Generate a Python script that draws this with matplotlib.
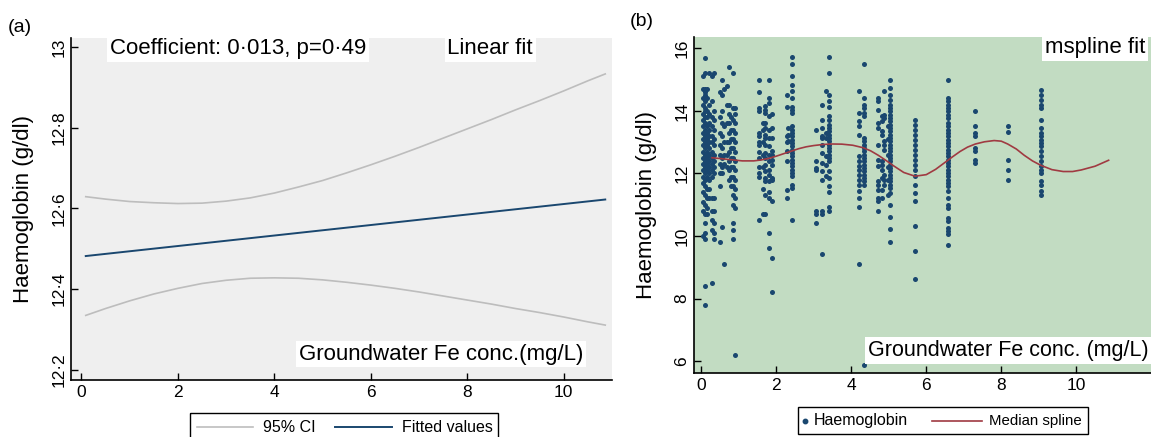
import numpy as np
import matplotlib.pyplot as plt
from matplotlib.patches import Rectangle

plt.rcParams['font.family'] = ['Liberation Sans', 'DejaVu Sans']

# ---- panel (a): linear fit + 95% CI
fit_x = [0.09, 10.86]
fit_y = [12.482, 12.622]
ci_x = [0.09, 0.5, 1, 1.5, 2, 2.5, 3, 3.5, 4, 4.5, 5, 5.5, 6, 6.5, 7, 7.5,
        8, 8.5, 9, 9.5, 10, 10.5, 10.86]
ci_upper = [12.629, 12.623, 12.617, 12.614, 12.612, 12.613, 12.618, 12.626,
            12.638, 12.653, 12.669, 12.688, 12.708, 12.729, 12.751, 12.774,
            12.797, 12.820, 12.844, 12.867, 12.891, 12.916, 12.933]
ci_lower = [12.335, 12.352, 12.371, 12.388, 12.402, 12.414, 12.422, 12.427,
            12.428, 12.427, 12.423, 12.417, 12.410, 12.402, 12.393, 12.383,
            12.373, 12.363, 12.352, 12.342, 12.331, 12.319, 12.311]

# ---- panel (b): haemoglobin by groundwater Fe, one list per Fe level
col_x = [0.05, 0.1, 0.15, 0.2, 0.3, 0.35, 0.5, 0.55, 0.6, 0.7, 0.75, 0.8,
         0.85, 0.9,
         1.54, 1.65, 1.7, 1.8, 1.9, 2.28, 2.32, 2.42,
         3.05, 3.22, 3.32, 3.4,
         4.2, 4.34, 4.72, 4.82, 4.88, 4.98, 5.04, 5.7,
         6.58, 7.31, 8.17, 9.05]
col_hb = [
    [15.1, 14.7, 14.4, 14.2, 13.9, 13.7, 13.5, 13.3, 13.1, 12.9, 12.7, 12.5,
     12.3, 12.1, 11.9, 11.7, 11.4, 11.1, 10.8, 10.0],
    [15.7, 15.2, 14.7, 14.6, 14.5, 14.3, 14.1, 14.0, 13.8, 13.6, 13.4, 13.2,
     13.0, 12.8, 12.6, 12.4, 12.2, 12.0, 11.8, 11.6, 11.3, 11.0, 10.7, 10.4,
     10.1, 9.9, 8.4, 7.8],
    [14.7, 14.4, 14.0, 13.8, 13.5, 13.3, 13.1, 12.9, 12.7, 12.5, 12.3, 12.1,
     11.9, 11.5, 11.2, 10.9, 10.7],
    [15.2, 14.2, 13.9, 13.6, 13.4, 13.2, 13.0, 12.8, 12.6, 12.4, 12.2, 12.0,
     11.8, 11.5, 11.2],
    [15.1, 14.3, 13.8, 13.5, 13.2, 13.0, 12.7, 12.5, 12.3, 12.1, 11.9, 11.2,
     10.8, 10.5, 10.2, 8.5],
    [15.2, 14.0, 13.7, 13.4, 13.1, 12.9, 12.6, 12.4, 12.2, 12.0, 11.2, 10.8,
     10.4, 10.1, 9.9],
    [14.6, 13.8, 13.3, 12.9, 12.6, 12.3, 12.0, 11.6, 9.8],
    [15.0, 14.5, 14.0, 13.6, 13.2, 12.8, 12.5, 12.2, 12.0, 10.3],
    [14.7, 13.5, 13.0, 12.6, 12.3, 9.1],
    [14.8, 14.2, 13.6, 13.0, 12.6, 12.2],
    [15.4, 14.2, 13.9, 13.6, 13.3, 13.0, 12.7, 12.4, 12.1, 11.8],
    [13.8, 13.4, 13.1, 12.8, 12.5, 12.2, 11.9, 11.6],
    [15.2, 14.1, 13.7, 13.4, 13.1, 12.8, 12.5, 12.2, 11.9, 11.6, 11.3, 11.0,
     10.4, 10.2, 9.9],
    [14.1, 13.9, 13.6, 13.3, 13.0, 12.7, 12.4, 12.1, 11.8, 11.5, 11.2, 10.9,
     6.2],
    [15.0, 14.6, 14.1, 14.0, 13.3, 13.2, 13.0, 12.9, 12.7, 12.5, 12.2, 12.0,
     11.9, 10.5],
    [13.6, 13.4, 13.0, 12.6, 12.2, 11.5, 10.7],
    [14.15, 14.04, 13.93, 13.61, 13.45, 13.24, 13.13, 12.92, 12.65, 12.50,
     12.28, 12.07, 11.86, 11.75, 11.32, 10.71],
    [15.0, 14.41, 14.25, 13.83, 13.40, 13.13, 12.87, 12.60, 12.39, 12.12,
     11.96, 11.75, 11.41, 11.22, 10.11, 9.60],
    [13.90, 13.45, 13.13, 12.71, 12.60, 12.44, 12.28, 11.86, 11.80, 11.11,
     9.30, 8.20],
    [14.52, 14.11, 13.19, 13.00, 12.71, 12.41, 11.48, 11.20],
    [13.45, 13.24, 13.03],
    [15.71, 15.51, 15.10, 14.84, 14.63, 14.41, 14.11, 14.04, 13.93, 13.51,
     13.40, 13.29, 13.19, 13.08, 12.97, 12.87, 12.76, 12.65, 12.55, 12.44,
     12.34, 12.23, 12.12, 12.02, 11.91, 11.64, 11.54, 10.50],
    [13.40, 12.41, 12.18, 12.12, 10.81, 10.71, 10.40],
    [14.20, 13.71, 13.45, 13.19, 13.13, 12.92, 12.65, 12.34, 12.07, 11.80,
     10.79, 10.71, 9.41],
    [14.63, 13.29, 13.13, 12.55, 12.28, 11.91],
    [15.71, 15.21, 14.52, 14.33, 14.11, 13.83, 13.72, 13.56, 13.45, 13.35,
     13.24, 13.13, 13.03, 12.92, 12.81, 12.71, 12.60, 12.50, 12.39, 12.09,
     11.86, 11.59, 11.41, 10.92, 10.79],
    [14.63, 13.93, 13.67, 13.51, 13.24, 12.55, 12.39, 12.23, 12.12, 11.96,
     11.80, 11.64, 11.43, 11.22, 10.92, 9.11],
    [15.51, 14.41, 14.20, 14.09, 13.93, 13.83, 13.13, 13.03, 12.92, 12.81,
     12.71, 12.60, 12.50, 12.39, 12.28, 12.18, 12.07, 11.96, 11.86, 11.75,
     11.64, 5.89],
    [14.41, 14.31, 14.04, 13.61, 13.45, 12.92, 12.44, 12.23, 11.75, 11.64,
     11.48, 11.22, 11.11, 10.79],
    [13.83, 13.67, 13.35, 13.24, 12.39, 12.28, 12.12, 11.86, 11.48, 11.22],
    [14.63, 13.88, 13.77, 13.03, 12.92, 12.76, 11.96, 11.80, 11.64],
    [13.5, 13.1, 12.6, 12.2, 11.8, 11.3],
    [15.0, 14.73, 14.52, 14.36, 14.20, 14.09, 13.99, 13.88, 13.77, 13.67,
     13.56, 13.45, 13.35, 13.24, 13.13, 13.03, 12.92, 12.81, 12.71, 12.60,
     12.50, 12.39, 12.28, 12.18, 12.07, 11.96, 11.86, 11.75, 11.64, 11.54,
     11.38, 11.0, 10.61, 10.21, 9.81],
    [13.72, 13.56, 13.40, 13.24, 13.08, 12.92, 12.76, 12.60, 12.44, 12.28,
     12.12, 11.91, 11.64, 11.38, 11.11, 10.31, 9.51, 8.61],
    [15.0, 14.41, 14.31, 14.20, 14.09, 13.99, 13.88, 13.77, 13.61, 13.51,
     13.40, 13.29, 13.19, 13.08, 12.97, 12.87, 12.76, 12.65, 12.55, 12.44,
     12.34, 12.23, 12.12, 12.02, 11.91, 11.80, 11.70, 11.59, 11.43, 11.22,
     11.0, 10.90, 10.58, 10.47, 10.26, 10.15, 10.05, 9.71],
    [14.01, 13.51, 13.29, 13.19, 12.81, 12.71, 12.44, 12.34],
    [13.53, 13.32, 12.44, 12.10, 11.80],
    [14.65, 14.52, 14.36, 14.20, 14.09, 13.72, 13.45, 13.29, 13.19, 13.08,
     12.97, 12.87, 12.71, 12.55, 12.39, 12.23, 12.12, 12.02, 11.75, 11.64,
     11.43, 11.32],
]

spline_x = [0.29, 0.55, 0.77, 1.1, 1.4, 1.6, 1.8, 2.0, 2.2, 2.4, 2.6, 2.8,
            3.0, 3.25, 3.48, 3.75, 4.04, 4.32, 4.52, 4.72, 4.92, 5.12, 5.4,
            5.7, 6.0, 6.25, 6.52, 6.7, 6.9, 7.1, 7.31, 7.55, 7.81, 8.0, 8.17,
            8.4, 8.61, 8.83, 9.05, 9.35, 9.65, 9.9, 10.13, 10.5, 10.86]
spline_y = [12.50, 12.47, 12.44, 12.40, 12.40, 12.43, 12.48, 12.55, 12.63,
            12.71, 12.79, 12.85, 12.89, 12.925, 12.94, 12.935, 12.90, 12.82,
            12.72, 12.58, 12.42, 12.25, 12.03, 11.91, 11.96, 12.13, 12.37,
            12.53, 12.70, 12.84, 12.94, 13.01, 13.05, 13.03, 12.94, 12.78,
            12.58, 12.40, 12.26, 12.12, 12.06, 12.06, 12.11, 12.23, 12.42]

navy = '#1a476f'
maroon = '#a03a42'
W, H = 1151, 437
fig = plt.figure(figsize=(W / 100, H / 100), dpi=100)

def px_axes(l, t, r, b):
    return fig.add_axes([l / W, 1 - b / H, (r - l) / W, (b - t) / H])

def style(ax):
    for s in ['top', 'right']:
        ax.spines[s].set_visible(False)
    ax.spines['left'].set_linewidth(1.2)
    ax.spines['bottom'].set_linewidth(1.2)
    ax.tick_params(direction='in', length=5, width=1, labelsize=12.5)
    for lab in ax.get_yticklabels():
        lab.set_rotation(90)
        lab.set_va('center')

box = dict(facecolor='white', edgecolor='none', pad=2)

# ---------------- (a)
ax1 = px_axes(71, 38, 612, 380)
ax1.set_facecolor('#efefef')
ax1.plot(ci_x, ci_upper, color='#bdbdbd', lw=1.2)
ax1.plot(ci_x, ci_lower, color='#bdbdbd', lw=1.2)
ax1.plot(fit_x, fit_y, color=navy, lw=1.4)
ax1.set_xlim(-0.216, 11.0)
ax1.set_ylim(12.175, 13.022)
ax1.set_xticks([0, 2, 4, 6, 8, 10])
ax1.set_yticks([12.2, 12.4, 12.6, 12.8, 13.0])
ax1.set_yticklabels(['12·2', '12·4', '12·6', '12·8', '13'])
style(ax1)
ax1.set_ylabel('Haemoglobin (g/dl)', fontsize=16, labelpad=12)
ax1.text(1 - (612 - 533) / 541, 1.0, 'Linear fit', transform=ax1.transAxes,
         fontsize=16, va='top', ha='right', bbox=box)
ax1.text(1 - (612 - 583) / 541, 0.045, 'Groundwater Fe conc.(mg/L)',
         transform=ax1.transAxes, fontsize=16, va='bottom', ha='right', bbox=box)

# ---------------- (b)
ax2 = px_axes(694, 37, 1151, 373)
ax2.set_facecolor('#c2dcc2')
for x, ys in zip(col_x, col_hb):
    ax2.scatter([x] * len(ys), ys, s=13, color=navy, linewidths=0, zorder=2)
ax2.plot(spline_x, spline_y, color=maroon, lw=1.2, zorder=3)
ax2.set_xlim(-0.19, 11.99)
ax2.set_ylim(5.62, 16.36)
ax2.set_xticks([0, 2, 4, 6, 8, 10])
ax2.set_yticks([6, 8, 10, 12, 14, 16])
style(ax2)
ax2.set_ylabel('Haemoglobin (g/dl)', fontsize=16, labelpad=12)
ax2.text(1 - (1151 - 1145) / 457, 1.0, 'mspline fit', transform=ax2.transAxes,
         fontsize=16, va='top', ha='right', bbox=box)
ax2.text(0.995, 0.035, 'Groundwater Fe conc. (mg/L)', transform=ax2.transAxes,
         fontsize=15.5, va='bottom', ha='right', bbox=box)

# ---------------- overlay in pixel coords: panel letters, notes, legends
ov = fig.add_axes([0, 0, 1, 1], zorder=5)
ov.set_xlim(0, W)
ov.set_ylim(H, 0)
ov.axis('off')
ov.text(8, 28, '(a)', fontsize=14, va='center')
ov.text(630, 22, '(b)', fontsize=14, va='center')
ov.text(110, 38, 'Coefficient: 0·013, p=0·49', fontsize=16, va='top',
        ha='left', bbox=box)

# legend (a)
ov.add_patch(Rectangle((190, 413), 308, 30, fill=False, ec='black', lw=1))
ov.plot([197, 253], [427, 427], color='#bdbdbd', lw=1.2)
ov.text(263, 427, '95% CI', fontsize=11.5, va='center')
ov.plot([335, 392], [427, 427], color=navy, lw=1.4)
ov.text(402, 427, 'Fitted values', fontsize=11.5, va='center')

# legend (b)
ov.add_patch(Rectangle((798, 407), 290, 27, fill=False, ec='black', lw=1))
ov.plot([805], [420.5], marker='o', ms=3.2, color=navy, ls='none')
ov.text(814, 420.5, 'Haemoglobin', fontsize=11.5, va='center')
ov.plot([932, 982], [420.5, 420.5], color=maroon, lw=1.2)
ov.text(989, 420.5, 'Median spline', fontsize=10.8, va='center')

fig.savefig('out.png', dpi=100)
